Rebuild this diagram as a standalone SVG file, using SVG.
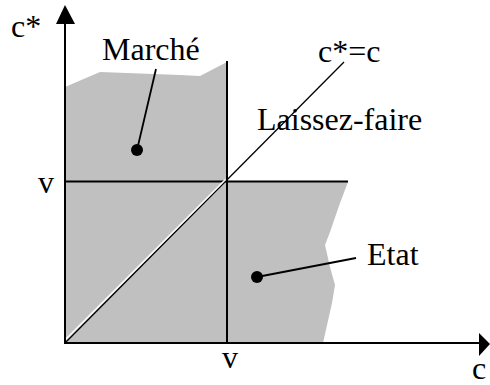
<svg xmlns="http://www.w3.org/2000/svg" width="490" height="385" viewBox="0 0 490 385">
<style>
.t{font-family:"Liberation Serif","Times New Roman",serif;font-size:32px;fill:#000}
.ax{stroke:#000;stroke-width:2;fill:none}
.ln{stroke:#000;stroke-width:2;fill:none}
.ld{stroke:#000;stroke-width:1.8;fill:none}
.region{fill:#c0c0c0;stroke:none}
</style>
<rect width="490" height="385" fill="#fff"/>
<g id="regions">
<path class="region" d="M65,87 L100,72 L180,75 L200,76 L227,62 L227,182 L348,182 L340,203 L330,232 L325,245 L330,267 L335,285 L332,303 L323,343 L65,343 Z"/>
</g>
<g id="connectors">
<line class="ln" x1="227" y1="61" x2="227" y2="342"/>
<line class="ln" x1="65" y1="181.5" x2="348" y2="181.5"/>
<line stroke="#000" stroke-width="1.3" x1="65" y1="343" x2="344" y2="62"/>
<line stroke="#fff" stroke-width="1.6" x1="63" y1="342" x2="225.5" y2="179.5"/>
<line class="ld" x1="137" y1="150" x2="156" y2="69"/>
<line class="ld" x1="257" y1="277" x2="356" y2="258"/>
</g>
<g id="axes">
<line class="ax" x1="65" y1="343" x2="65" y2="22"/>
<polygon points="65,5 56,24 75,24" fill="#000"/>
<line class="ax" x1="64" y1="343" x2="481" y2="343"/>
<polygon points="490,344 479,333 479,356" fill="#000"/>
</g>
<g id="marche">
<circle cx="137" cy="150" r="6" fill="#000"/>
<text class="t" x="102" y="60">Marché</text>
</g>
<g id="etat">
<circle cx="257" cy="277" r="6" fill="#000"/>
<text class="t" x="367" y="265">Etat</text>
</g>
<g id="laissez-faire">
<text class="t" x="257" y="130">Laissez-faire</text>
</g>
<g id="labels">
<text class="t" x="11" y="37">c*</text>
<text class="t" x="318" y="62">c*=c</text>
<text class="t" x="38" y="193">v</text>
<text class="t" x="222" y="368">v</text>
<text class="t" x="472" y="379" font-size="30">c</text>
</g>
</svg>
